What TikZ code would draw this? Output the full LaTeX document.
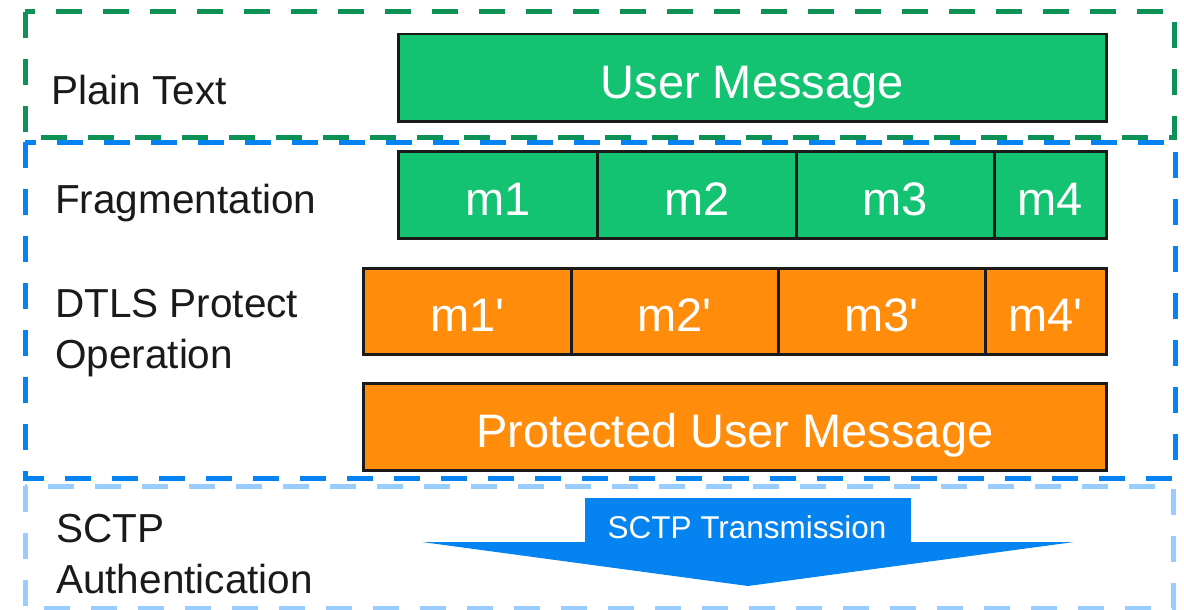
\documentclass[tikz,border=0pt]{standalone}
\usepackage{fontspec}
\setmainfont{Liberation Sans}
\newfontfamily\segfont{Liberation Sans}
\definecolor{segGreen}{RGB}{20,195,114}
\definecolor{segOrange}{RGB}{255,140,10}
\definecolor{frameGreen}{RGB}{14,145,85}
\definecolor{frameBlue}{RGB}{5,131,242}
\definecolor{frameLight}{RGB}{153,204,255}
\definecolor{arrowBlue}{RGB}{5,131,240}
\definecolor{labelText}{RGB}{26,26,26}
\begin{document}
\begin{tikzpicture}[x=1pt,y=-1pt,
  seg/.style={draw=labelText, line width=2.5pt, inner sep=0pt, anchor=north west, text=white,
    font=\segfont\fontsize{47}{56}\selectfont, text height=41pt, text depth=0pt},
  gseg/.style={seg, fill=segGreen},
  oseg/.style={seg, fill=segOrange},
  frame/.style={line width=5pt, dash pattern=on 26pt off 21pt},
  lbl/.style={anchor=base west, inner sep=0pt, text=labelText, font=\fontsize{40.5}{51}\selectfont, align=left}]
\useasboundingbox[fill=white] (0,0) rectangle (1184,610);

% segments
\node[gseg, minimum width=708pt, minimum height=87pt] (user) at (397,33) {User Message};
\node[gseg, minimum width=199pt, minimum height=87pt] (m1) at (397,150) {m1};
\node[gseg, minimum width=199pt, minimum height=87pt] (m2) at (596,150) {m2};
\node[gseg, minimum width=198pt, minimum height=87pt] (m3) at (795,150) {m3};
\node[gseg, minimum width=112pt, minimum height=87pt] (m4) at (993,150) {m4};
\node[oseg, minimum width=208pt, minimum height=86pt] (p1) at (362,267) {m1'};
\node[oseg, minimum width=207pt, minimum height=86pt] (p2) at (570,267) {m2'};
\node[oseg, minimum width=207pt, minimum height=86pt] (p3) at (777,267) {m3'};
\node[oseg, minimum width=121pt, minimum height=86pt] (p4) at (984,267) {m4'};
\node[oseg, minimum width=743pt, minimum height=87pt] (prot) at (362,382) {Protected User Message};

% arrow
\fill[arrowBlue] (585,498) -- (911,498) -- (911,542) -- (1074,542) -- (748,586) -- (422,542) -- (585,542) -- cycle;
\node[text=white, inner sep=0pt, font=\fontsize{31.5}{38}\selectfont] (tx) at (747,527) {SCTP Transmission};

% labels
\node[lbl] (lplain) at (51,105) {Plain Text};
\node[lbl] (lfrag) at (55,213) {Fragmentation};
\node[lbl] (ldtls) at (55,368) {DTLS Protect\\Operation};
\node[lbl] (lsctp) at (56,593) {SCTP\\Authentication};

% frames
\draw[frame, frameLight] (25,486) rectangle (1173,608);
\draw[frame, frameBlue] (25,142) rectangle (1175,478);
\draw[frame, frameGreen] (25,12) rectangle (1174,137);
\end{tikzpicture}
\end{document}
